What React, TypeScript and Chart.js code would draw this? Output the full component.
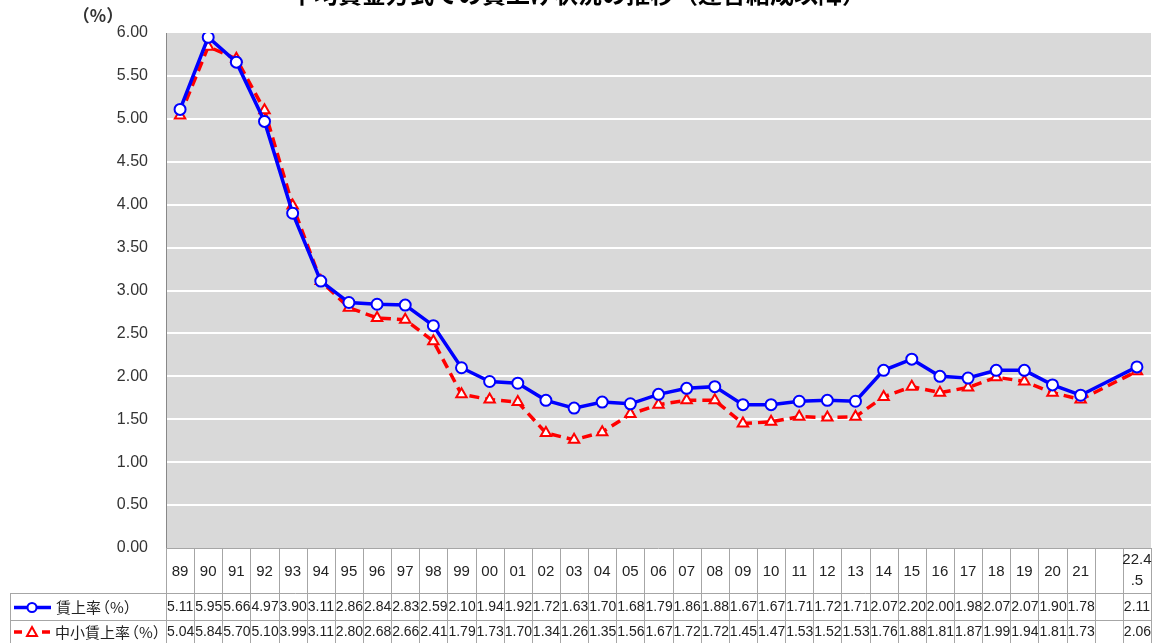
import React, { useEffect, useRef } from "react";
import { Chart, registerables } from "chart.js";

Chart.register(...registerables);

const categories: string[] = [
  "89", "90", "91", "92", "93", "94", "95", "96", "97", "98", "99",
  "00", "01", "02", "03", "04", "05", "06", "07", "08", "09", "10",
  "11", "12", "13", "14", "15", "16", "17", "18", "19", "20", "21",
  "", "22.4\n.5",
];

const wageRate: (number | null)[] = [
  5.11, 5.95, 5.66, 4.97, 3.90, 3.11, 2.86, 2.84, 2.83, 2.59, 2.10,
  1.94, 1.92, 1.72, 1.63, 1.70, 1.68, 1.79, 1.86, 1.88, 1.67, 1.67,
  1.71, 1.72, 1.71, 2.07, 2.20, 2.00, 1.98, 2.07, 2.07, 1.90, 1.78,
  null, 2.11,
];

const smeWageRate: (number | null)[] = [
  5.04, 5.84, 5.70, 5.10, 3.99, 3.11, 2.80, 2.68, 2.66, 2.41, 1.79,
  1.73, 1.70, 1.34, 1.26, 1.35, 1.56, 1.67, 1.72, 1.72, 1.45, 1.47,
  1.53, 1.52, 1.53, 1.76, 1.88, 1.81, 1.87, 1.99, 1.94, 1.81, 1.73,
  null, 2.06,
];

const seriesNames: string[] = ["賃上率（%）", "中小賃上率（%）"];
const titleText = "平均賃金方式での賃上げ状況の推移（連合結成以降）";
const yUnitLabel = "（%）";

const W = 1159;
const H = 643;

function drawName(ctx: CanvasRenderingContext2D, name: string, x: number, y: number) {
  const k = name.indexOf("（");
  const pre = k >= 0 ? name.slice(0, k) : name;
  const suf = k >= 0 ? name.slice(k) : "";
  ctx.fillText(pre, x, y);
  const w = ctx.measureText(pre).width;
  if (suf) ctx.fillText(suf, x + w - 6, y);
}

const tablePlugin = {
  id: "dataTable",
  beforeDraw(chart: any) {
    const { ctx, chartArea } = chart;
    ctx.save();
    ctx.fillStyle = "#ffffff";
    ctx.fillRect(0, 0, chart.width, chart.height);
    ctx.fillStyle = "#d9d9d9";
    ctx.fillRect(chartArea.left, chartArea.top, chartArea.right - chartArea.left, chartArea.bottom - chartArea.top);
    ctx.restore();
  },
  afterDraw(chart: any) {
    const { ctx, chartArea } = chart;
    const left = chartArea.left;
    const right = chartArea.right;
    const n = categories.length;
    const cw = (right - left) / n;
    const top = chartArea.bottom;
    const r1 = 593;
    const r2 = 620;
    const r3 = 646;
    const legLeft = 10;
    ctx.save();
    // title
    ctx.fillStyle = "#000000";
    ctx.font = "bold 24px 'Noto Sans CJK JP'";
    ctx.textAlign = "center";
    ctx.textBaseline = "middle";
    ctx.fillText(titleText, 578, -6);
    // unit label
    ctx.font = "bold 17px 'Noto Sans CJK JP'";
    ctx.fillStyle = "#333333";
    ctx.fillText(yUnitLabel, 98, 16);

    // table lines
    ctx.strokeStyle = "#a6a6a6";
    ctx.lineWidth = 1;
    ctx.beginPath();
    ctx.moveTo(left, top + 0.5);
    ctx.lineTo(right, top + 0.5);
    ctx.moveTo(legLeft, r1 + 0.5);
    ctx.lineTo(right, r1 + 0.5);
    ctx.moveTo(legLeft, r2 + 0.5);
    ctx.lineTo(right, r2 + 0.5);
    ctx.moveTo(legLeft + 0.5, r1);
    ctx.lineTo(legLeft + 0.5, r3);
    for (let i = 0; i <= n; i++) {
      const x = Math.round(left + i * cw) + 0.5;
      ctx.moveTo(x, top);
      ctx.lineTo(x, r3);
    }
    ctx.stroke();

    // category labels
    ctx.fillStyle = "#222222";
    ctx.font = "15px 'Liberation Sans'";
    ctx.textAlign = "center";
    ctx.textBaseline = "middle";
    categories.forEach((c, i) => {
      const cx = left + (i + 0.5) * cw;
      const lines = c.split("\n");
      if (lines.length === 1) {
        ctx.fillText(c, cx, (top + r1) / 2 + 1);
      } else {
        ctx.fillText(lines[0], cx, top + 12);
        ctx.fillText(lines[1], cx, top + 33);
      }
    });

    // values
    ctx.font = "14px 'Liberation Sans'";
    ctx.textAlign = "left";
    const rows = [wageRate, smeWageRate];
    const rowY = [(r1 + r2) / 2 + 1, (r2 + r3) / 2 - 1];
    rows.forEach((arr, ri) => {
      arr.forEach((v, i) => {
        if (v === null) return;
        const x = left + i * cw + 1;
        ctx.fillText(v.toFixed(2), x, rowY[ri]);
      });
    });

    // legend keys
    ctx.strokeStyle = "#0000ff";
    ctx.lineWidth = 3.5;
    ctx.setLineDash([]);
    ctx.beginPath();
    ctx.moveTo(14, rowY[0]);
    ctx.lineTo(51, rowY[0]);
    ctx.stroke();
    ctx.beginPath();
    ctx.arc(32, rowY[0], 4.5, 0, Math.PI * 2);
    ctx.fillStyle = "#ffffff";
    ctx.fill();
    ctx.lineWidth = 2;
    ctx.stroke();
    ctx.strokeStyle = "#ff0000";
    ctx.lineWidth = 3.5;
    ctx.beginPath();
    ctx.moveTo(14, rowY[1]);
    ctx.lineTo(22, rowY[1]);
    ctx.moveTo(42, rowY[1]);
    ctx.lineTo(50, rowY[1]);
    ctx.stroke();
    ctx.beginPath();
    ctx.moveTo(32, rowY[1] - 5);
    ctx.lineTo(37, rowY[1] + 4);
    ctx.lineTo(27, rowY[1] + 4);
    ctx.closePath();
    ctx.fillStyle = "#ffffff";
    ctx.fill();
    ctx.lineWidth = 2;
    ctx.stroke();

    ctx.fillStyle = "#222222";
    ctx.font = "15px 'Noto Sans CJK JP'";
    drawName(ctx, seriesNames[0], 56, rowY[0]);
    drawName(ctx, seriesNames[1], 55, rowY[1]);
    ctx.restore();
  },
};

export default function App() {
  const canvasRef = useRef<HTMLCanvasElement | null>(null);

  useEffect(() => {
    document.body.style.margin = "0";
    const canvas = canvasRef.current;
    if (!canvas) return;
    const chart = new Chart(canvas, {
      type: "line",
      data: {
        labels: categories,
        datasets: [
          {
            label: seriesNames[1],
            data: smeWageRate,
            borderColor: "#ff0000",
            borderWidth: 3.5,
            borderDash: [10, 6],
            pointStyle: "triangle",
            pointRadius: 6,
            pointBorderWidth: 2,
            pointBackgroundColor: "#ffffff",
            pointBorderColor: "#ff0000",
            spanGaps: true,
            tension: 0,
            order: 2,
          },
          {
            label: seriesNames[0],
            data: wageRate,
            borderColor: "#0000ff",
            borderWidth: 3.5,
            pointStyle: "circle",
            pointRadius: 5.5,
            pointBorderWidth: 2,
            pointBackgroundColor: "#ffffff",
            pointBorderColor: "#0000ff",
            spanGaps: true,
            tension: 0,
            order: 1,
          },
        ],
      },
      options: {
        animation: false,
        responsive: false,
        layout: { padding: { top: 33, bottom: 95, right: 6, left: 0 } },
        plugins: {
          legend: { display: false },
          title: { display: false },
          tooltip: { enabled: false },
        },
        scales: {
          x: {
            type: "category",
            display: false,
            offset: true,
          },
          y: {
            min: 0,
            max: 6,
            afterFit: (scale: any) => {
              scale.width = 166;
            },
            ticks: {
              stepSize: 0.5,
              padding: 18,
              color: "#333333",
              font: { family: "'Liberation Sans'", size: 16 },
              callback: (v: any) => Number(v).toFixed(2),
            },
            grid: {
              color: (c: any) => (c.tick && (c.tick.value === 0 || c.tick.value === 6) ? "rgba(0,0,0,0)" : "#ffffff"),
              lineWidth: 2,
              drawTicks: false,
            },
            border: { display: true, color: "#888888", width: 1 },
          },
        },
      },
      plugins: [tablePlugin],
    });
    return () => chart.destroy();
  }, []);

  return (
    <div style={{ width: W, height: H, position: "relative" }}>
      <canvas ref={canvasRef} width={W} height={H} style={{ display: "block", width: W, height: H }} />
    </div>
  );
}
